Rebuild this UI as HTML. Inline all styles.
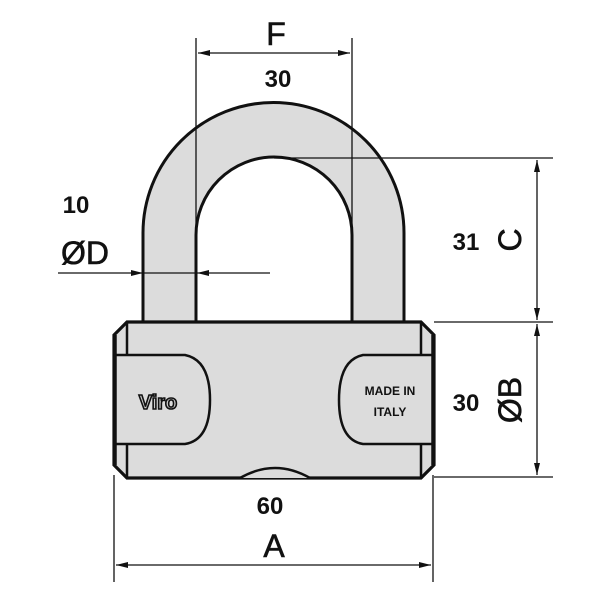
<!DOCTYPE html>
<html><head><meta charset="utf-8"><style>
html,body{margin:0;padding:0;background:#fff;width:600px;height:600px;overflow:hidden}
text{font-family:"Liberation Sans",sans-serif;font-weight:bold;fill:#111}
.L{font-weight:normal;stroke:#111;stroke-width:0.6}
</style></head><body>
<svg width="600" height="600" viewBox="0 0 600 600" xmlns="http://www.w3.org/2000/svg">
<defs>
<marker id="ar" viewBox="0 0 12 6" refX="12" refY="3" markerWidth="12" markerHeight="6" orient="auto" markerUnits="userSpaceOnUse"><path d="M0,0 L12,3 L0,6 z" fill="#111"/></marker>
</defs>
<path d="M143,322 L143,233 A130,130 0 0 1 404,233 L404,322 Q378,330 352,322 L352,235 A78,78 0 0 0 196,235 L196,322 Q170,331 143,322 Z" fill="#dcdcdc" stroke="#111" stroke-width="3"/>
<path d="M127,322 L421,322 L434,335 L434,465 L421,478 L127,478 L114,465 L114,335 Z" fill="#dcdcdc" stroke="#111" stroke-width="3.2"/>
<line x1="127" y1="322" x2="127" y2="478" stroke="#111" stroke-width="2.5"/>
<line x1="421" y1="322" x2="421" y2="478" stroke="#111" stroke-width="2.5"/>
<path d="M115,355 L185,355 Q210,360 210,400 Q210,440 185,444 L115,444 Z" fill="#dcdcdc" stroke="#111" stroke-width="2.5"/>
<path d="M433,355 L363,355 Q339,360 339,400 Q339,440 363,444 L433,444 Z" fill="#dcdcdc" stroke="#111" stroke-width="2.5"/>
<line x1="115" y1="335" x2="115" y2="465" stroke="#111" stroke-width="3.5"/>
<line x1="433" y1="335" x2="433" y2="465" stroke="#111" stroke-width="3.5"/>
<path d="M240,478 Q275,458 310,478" fill="#dcdcdc" stroke="#111" stroke-width="2.5"/>
<text x="158" y="409" font-size="20" text-anchor="middle" style="fill:#ccc;stroke:#111;stroke-width:1.6;font-weight:bold">Viro</text>
<text x="390" y="395" font-size="12" text-anchor="middle">MADE IN</text>
<text x="390" y="416" font-size="12" text-anchor="middle">ITALY</text>
<g stroke="#111" stroke-width="1.3" fill="none">
<line x1="196" y1="38" x2="196" y2="322"/>
<line x1="352" y1="38" x2="352" y2="322"/>
<line x1="274" y1="53" x2="198" y2="53" marker-end="url(#ar)"/>
<line x1="274" y1="53" x2="350" y2="53" marker-end="url(#ar)"/>
<line x1="274" y1="158" x2="553" y2="158"/>
<line x1="434" y1="322" x2="553" y2="322"/>
<line x1="434" y1="477" x2="553" y2="477"/>
<line x1="537" y1="240" x2="537" y2="160" marker-end="url(#ar)"/>
<line x1="537" y1="240" x2="537" y2="320" marker-end="url(#ar)"/>
<line x1="537" y1="400" x2="537" y2="324" marker-end="url(#ar)"/>
<line x1="537" y1="400" x2="537" y2="475" marker-end="url(#ar)"/>
<line x1="114" y1="475" x2="114" y2="582"/>
<line x1="433" y1="475" x2="433" y2="582"/>
<line x1="274" y1="565" x2="116" y2="565" marker-end="url(#ar)"/>
<line x1="274" y1="565" x2="431" y2="565" marker-end="url(#ar)"/>
<line x1="58" y1="273" x2="143" y2="273" marker-end="url(#ar)"/>
<line x1="270" y1="273" x2="197" y2="273" marker-end="url(#ar)"/>
<line x1="143" y1="273" x2="196" y2="273"/>
</g>
<text x="276" y="45" font-size="32" text-anchor="middle" class="L">F</text>
<text x="278" y="87" font-size="24" text-anchor="middle">30</text>
<text x="76" y="213" font-size="24" text-anchor="middle">10</text>
<text x="85" y="264" font-size="32" text-anchor="middle" class="L">ØD</text>
<text x="466" y="250" font-size="24" text-anchor="middle">31</text>
<text transform="translate(521,240) rotate(-90)" font-size="32" text-anchor="middle" class="L">C</text>
<text x="466" y="411" font-size="24" text-anchor="middle">30</text>
<text transform="translate(521,400) rotate(-90)" font-size="32" text-anchor="middle" class="L">ØB</text>
<text x="270" y="514" font-size="24" text-anchor="middle">60</text>
<text x="274" y="557" font-size="32" text-anchor="middle" class="L">A</text>
</svg>
</body></html>
